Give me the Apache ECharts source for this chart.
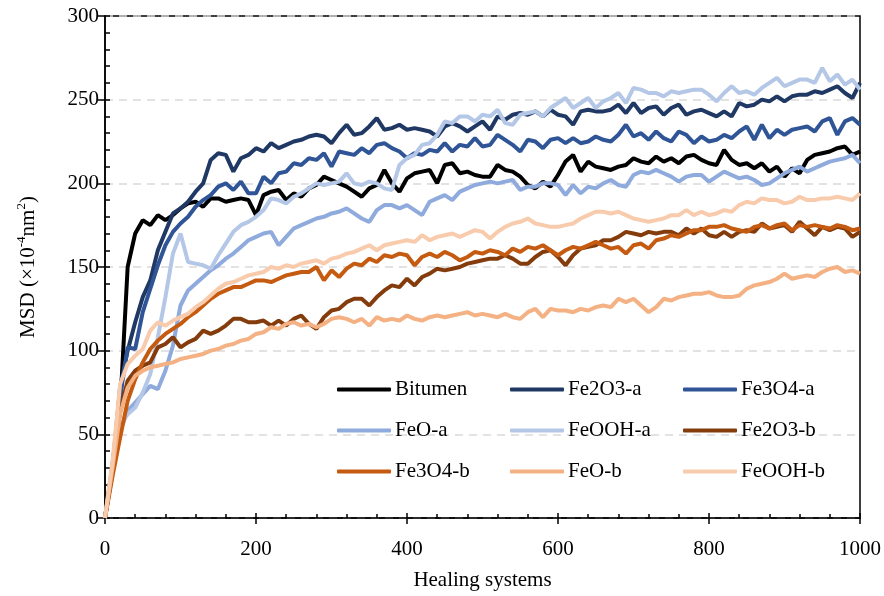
<!DOCTYPE html>
<html>
<head>
<meta charset="utf-8">
<script src="https://cdn.jsdelivr.net/npm/echarts@6/dist/echarts.min.js"></script>
<style>
  html, body { margin: 0; padding: 0; background: #fff; }
  #chart { width: 884px; height: 596px; }
</style>
</head>
<body>
<div id="chart"></div>
<script>
const xSteps = [
  0, 10, 20, 30, 40, 50, 60, 70, 80, 90,
  100, 110, 120, 130, 140, 150, 160, 170, 180, 190,
  200, 210, 220, 230, 240, 250, 260, 270, 280, 290,
  300, 310, 320, 330, 340, 350, 360, 370, 380, 390,
  400, 410, 420, 430, 440, 450, 460, 470, 480, 490,
  500, 510, 520, 530, 540, 550, 560, 570, 580, 590,
  600, 610, 620, 630, 640, 650, 660, 670, 680, 690,
  700, 710, 720, 730, 740, 750, 760, 770, 780, 790,
  800, 810, 820, 830, 840, 850, 860, 870, 880, 890,
  900, 910, 920, 930, 940, 950, 960, 970, 980, 990,
  1000,
];

const bitumen = [
  0, 28, 65, 150, 170, 178, 175, 181, 178, 181,
  185, 188, 189, 186, 191, 191, 189, 190, 191, 190,
  181, 193, 195, 196, 190, 194, 192, 197, 199, 204,
  202, 200, 198, 195, 192, 197, 199, 208, 200, 195,
  203, 206, 207, 208, 200, 211, 212, 206, 207, 205,
  204, 204, 211, 208, 207, 204, 199, 197, 201, 198,
  205, 213, 217, 207, 213, 210, 209, 208, 210, 211,
  215, 213, 212, 216, 213, 215, 212, 216, 217, 214,
  212, 211, 220, 214, 211, 212, 209, 212, 207, 210,
  204, 209, 206, 214, 217, 218, 219, 221, 222, 217,
  219,
];

const fe2o3A = [
  0, 30, 78, 100, 117, 132, 142, 160, 171, 182,
  185, 189, 195, 200, 214, 218, 217, 207, 215, 217,
  221, 219, 224, 221, 223, 225, 226, 228, 229, 228,
  224, 230, 235, 229, 230, 234, 239, 232, 233, 235,
  232, 233, 232, 231, 228, 234, 236, 234, 231, 234,
  237, 232, 240, 238, 241, 242, 241, 243, 240, 244,
  241, 240, 235, 243, 244, 243, 243, 244, 247, 242,
  248, 242, 245, 246, 241, 245, 247, 241, 243, 244,
  242, 240, 243, 240, 248, 246, 247, 250, 249, 252,
  249, 252, 253, 253, 255, 254, 256, 258, 254, 251,
  260,
];

const fe3o4A = [
  0, 32, 72, 102, 101, 123, 137, 151, 163, 171,
  176, 180, 186, 190, 193, 198, 200, 196, 201, 194,
  194, 204, 200, 206, 207, 212, 211, 215, 214, 218,
  210, 219, 218, 217, 221, 218, 223, 224, 221, 219,
  215, 218, 217, 220, 219, 224, 219, 223, 222, 227,
  222, 223, 229, 226, 223, 219, 226, 225, 221, 226,
  227, 224, 227, 224, 225, 228, 226, 225, 229, 235,
  228, 230, 226, 231, 227, 225, 231, 229, 224, 228,
  225, 226, 229, 227, 231, 234, 226, 235, 227, 232,
  229, 232, 233, 234, 231, 237, 239, 229, 237, 239,
  235,
];

const feoA = [
  0, 28, 52, 64, 69, 74, 79, 77, 88, 103,
  127, 136, 140, 144, 148, 151, 155, 158, 162, 166,
  168, 170, 171, 163, 168, 173, 175, 177, 179, 180,
  182, 183, 185, 182, 179, 177, 184, 187, 187, 185,
  187, 184, 181, 189, 191, 193, 190, 195, 197, 199,
  200, 201, 200, 201, 202, 196, 198, 198, 200, 200,
  199, 193, 199, 194, 198, 197, 200, 202, 199, 198,
  205, 207, 206, 208, 206, 204, 201, 204, 205, 205,
  201, 204, 207, 205, 203, 204, 202, 199, 200, 203,
  206, 208, 210, 207, 209, 211, 213, 214, 215, 217,
  212,
];

const feoohA = [
  0, 30, 55, 62, 66, 75, 86, 108, 132, 158,
  170, 153, 152, 151, 149, 157, 164, 171, 175, 177,
  180, 184, 191, 190, 188, 192, 194, 197, 200, 199,
  200, 201, 206, 200, 199, 201, 200, 197, 196, 211,
  215, 217, 223, 224, 229, 237, 236, 240, 240, 237,
  241, 240, 244, 236, 235, 241, 242, 243, 240, 245,
  248, 251, 245, 248, 251, 245, 249, 251, 254, 248,
  257, 256, 254, 254, 252, 255, 254, 255, 256, 256,
  253, 249, 254, 258, 254, 255, 253, 257, 260, 263,
  258, 260, 262, 262, 260, 269, 261, 265, 259, 262,
  256,
];

const fe2o3B = [
  0, 30, 64, 82, 88, 91, 93, 102, 104, 108,
  102, 105, 107, 112, 110, 112, 115, 119, 119, 117,
  117, 118, 115, 118, 115, 119, 121, 116, 113, 120,
  124, 125, 129, 131, 131, 127, 132, 136, 139, 138,
  143, 139, 144, 146, 149, 148, 149, 150, 152, 153,
  154, 155, 155, 157, 155, 152, 152, 156, 159, 160,
  156, 151, 157, 161, 162, 163, 166, 166, 168, 171,
  170, 169, 171, 170, 171, 171, 169, 173, 170, 173,
  169, 168, 171, 168, 171, 172, 171, 176, 173, 174,
  175, 171, 177, 173, 169, 174, 172, 174, 173, 168,
  171,
];

const fe3o4B = [
  0, 25, 48, 70, 83, 93, 101, 106, 110, 113,
  116, 120, 123, 127, 131, 134, 136, 138, 138, 140,
  142, 142, 141, 143, 145, 146, 147, 147, 150, 142,
  148, 144, 149, 152, 151, 155, 153, 157, 156, 158,
  157, 151, 156, 158, 156, 159, 157, 154, 156, 159,
  158, 160, 159, 157, 161, 159, 162, 161, 163, 160,
  157, 160, 162, 161, 163, 165, 163, 161, 162, 158,
  163, 164, 161, 166, 167, 169, 168, 170, 172, 172,
  174, 174, 175, 173, 172, 171, 174, 175, 173, 175,
  176, 172, 175, 174, 175, 174, 173, 175, 174, 172,
  173,
];

const feoB = [
  0, 30, 62, 78, 85, 88, 90, 91, 92, 93,
  95, 96, 97, 98, 100, 101, 103, 104, 106, 107,
  110, 111, 114, 113, 116, 117, 115, 116, 114, 116,
  119, 120, 119, 117, 119, 115, 120, 118, 119, 118,
  121, 119, 118, 120, 121, 120, 121, 122, 123, 121,
  122, 121, 120, 122, 120, 119, 123, 125, 120, 125,
  124, 124, 123, 125, 124, 126, 127, 126, 131, 129,
  131, 127, 123, 126, 131, 130, 132, 133, 134, 134,
  135, 133, 132, 132, 133, 137, 139, 140, 141, 143,
  146, 143, 144, 145, 144, 147, 149, 150, 147, 148,
  146,
];

const feoohB = [
  0, 34, 80, 92, 97, 101, 112, 117, 115, 118,
  120, 122, 126, 129, 133, 137, 140, 141, 143, 145,
  146, 147, 150, 149, 151, 150, 152, 153, 154, 152,
  155, 156, 158, 159, 161, 163, 160, 163, 164, 165,
  166, 165, 169, 166, 168, 169, 170, 168, 170, 172,
  171, 167, 171, 174, 176, 177, 179, 176, 175, 174,
  174, 175, 176, 179, 181, 183, 183, 182, 183, 181,
  179, 178, 177, 178, 179, 181, 181, 184, 181, 183,
  181, 182, 184, 183, 187, 189, 188, 191, 190, 190,
  188, 189, 192, 190, 190, 191, 191, 192, 191, 190,
  194,
];

const seriesNames = [
  "Bitumen", "Fe2O3-a", "Fe3O4-a",
  "FeO-a", "FeOOH-a", "Fe2O3-b",
  "Fe3O4-b", "FeO-b", "FeOOH-b",
];
const seriesValues = [bitumen, fe2o3A, fe3o4A, feoA, feoohA, fe2o3B, fe3o4B, feoB, feoohB];
const seriesColors = [
  "#000000", "#203864", "#2f5597",
  "#8faadc", "#b4c7e7", "#843c0c",
  "#c55a11", "#f4b183", "#f8cbad",
];

const yTickValues = [0, 50, 100, 150, 200, 250, 300];
const xTickValues = [0, 200, 400, 600, 800, 1000];

const fontFamily = "Liberation Serif";
const fontSize = 21;

const legendColumns = [
  ["Bitumen", "FeO-a", "Fe3O4-b"],
  ["Fe2O3-a", "FeOOH-a", "FeO-b"],
  ["Fe3O4-a", "Fe2O3-b", "FeOOH-b"],
];
const legendLefts = [337, 510, 683];

function makeLegend(names, left) {
  return {
    orient: "vertical",
    left: left,
    top: 379,
    padding: 0,
    icon: "roundRect",
    itemWidth: 54,
    itemHeight: 4,
    itemGap: 20,
    data: names,
    textStyle: {
      fontFamily: fontFamily,
      fontSize: fontSize,
      color: "#000",
      lineHeight: 21,
      padding: [0, 0, 0, -1],
    },
  };
}

const chart = echarts.init(document.getElementById("chart"), null, { renderer: "canvas" });

const axisBlack = { color: "#000", width: 1.5 };

const option = {
  animation: false,
  backgroundColor: "#fff",
  grid: {
    left: 105,
    right: 23,
    top: 16,
    bottom: 77,
    show: true,
    borderColor: "#000",
    borderWidth: 1.5,
  },
  legend: legendColumns.map((names, i) => makeLegend(names, legendLefts[i])),
  xAxis: [
    {
      type: "value",
      min: xTickValues[0],
      max: xTickValues[xTickValues.length - 1],
      interval: 200,
      name: "Healing systems",
      nameLocation: "middle",
      nameGap: 52,
      nameTextStyle: { fontFamily: fontFamily, fontSize: fontSize, color: "#000" },
      axisLine: { lineStyle: axisBlack },
      axisTick: { inside: false, length: 6, lineStyle: axisBlack },
      axisLabel: {
        fontFamily: fontFamily,
        fontSize: fontSize,
        color: "#000",
        margin: 21,
        formatter: (v) => String(v),
      },
      splitLine: { show: false },
    },
    {
      type: "value",
      position: "bottom",
      min: xTickValues[0],
      max: xTickValues[xTickValues.length - 1],
      interval: 200,
      axisLine: { show: false },
      axisLabel: { show: false },
      axisTick: { inside: true, length: 5, lineStyle: axisBlack },
      minorTick: { show: true, splitNumber: 5, length: 4, lineStyle: axisBlack },
      splitLine: { show: false },
    },
  ],
  yAxis: [
    {
      type: "value",
      min: yTickValues[0],
      max: yTickValues[yTickValues.length - 1],
      interval: 50,
      name: "{t|MSD (\u00d710}{s|-4}{t|nm}{s|2}{t|)}",
      nameLocation: "middle",
      nameRotate: 90,
      nameGap: 66,
      nameTextStyle: {
        rich: {
          t: { fontFamily: fontFamily, fontSize: fontSize, color: "#000", lineHeight: 24, verticalAlign: "bottom" },
          s: { fontFamily: fontFamily, fontSize: 13, color: "#000", lineHeight: 24, verticalAlign: "top", padding: [0, 0, 8, 0] },
        },
      },
      axisLine: { lineStyle: axisBlack },
      axisTick: { inside: false, length: 7, lineStyle: axisBlack },
      axisLabel: { fontFamily: fontFamily, fontSize: fontSize, color: "#000", margin: 6 },
      splitLine: { show: true, lineStyle: { color: "#d9d9d9", width: 1.5, type: [8, 6] } },
    },
    {
      type: "value",
      position: "left",
      min: yTickValues[0],
      max: yTickValues[yTickValues.length - 1],
      interval: 50,
      axisLine: { show: false },
      axisLabel: { show: false },
      axisTick: { inside: true, length: 5, lineStyle: axisBlack },
      minorTick: { show: true, splitNumber: 5, length: 5, lineStyle: axisBlack },
      splitLine: { show: false },
    },
  ],
  series: seriesNames.map((name, i) => ({
    name: name,
    type: "line",
    xAxisIndex: 0,
    yAxisIndex: 0,
    symbol: "none",
    showSymbol: false,
    lineStyle: { color: seriesColors[i], width: 4 },
    itemStyle: { color: seriesColors[i] },
    data: xSteps.map((x, j) => [x, seriesValues[i][j]]),
  })),
};

chart.setOption(option);
</script>
</body>
</html>
